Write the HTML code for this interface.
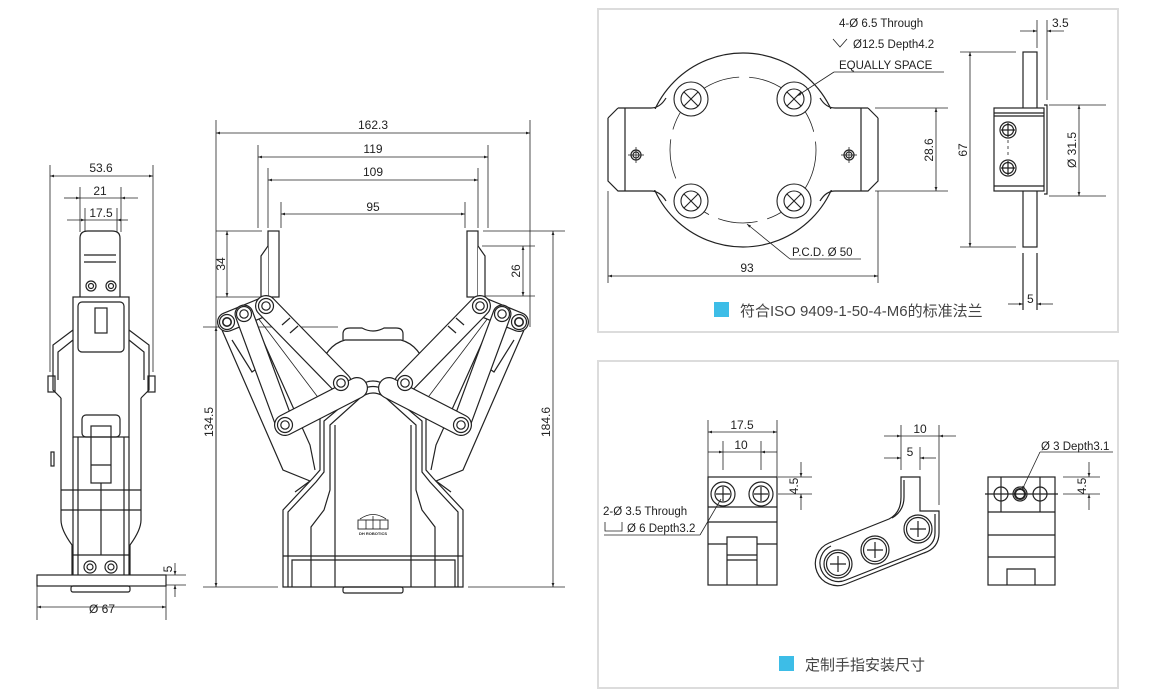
<!DOCTYPE html>
<html><head><meta charset="utf-8"><style>
html,body{margin:0;padding:0;background:#fff;width:1160px;height:700px;overflow:hidden}
svg{display:block;font-family:"Liberation Sans",Arial,sans-serif}
.cn{font-family:"Liberation Sans","Noto Sans CJK SC",sans-serif}
</style></head><body>
<svg width="1160" height="700" viewBox="0 0 1160 700" xmlns="http://www.w3.org/2000/svg">
<defs>
<marker id="a" viewBox="0 0 10 10" refX="10" refY="5" markerWidth="7" markerHeight="5" orient="auto-start-reverse"><path d="M0,1.5 L10,5 L0,8.5 z" fill="#222"/></marker>
</defs>
<rect x="598" y="9" width="520" height="323" fill="none" stroke="#dcdcdc" stroke-width="2"/>
<rect x="598" y="361" width="520" height="327" fill="none" stroke="#dcdcdc" stroke-width="2"/>

<g fill="none" stroke="#222" stroke-width="0.8" font-size="12" >
<!-- LEFT SIDE VIEW -->
<line x1="50" y1="165" x2="50" y2="372"/><line x1="153" y1="165" x2="153" y2="372"/>
<line x1="50" y1="176" x2="153" y2="176" marker-start="url(#a)" marker-end="url(#a)"/>
<line x1="80" y1="187" x2="80" y2="232"/><line x1="121" y1="187" x2="121" y2="232"/>
<line x1="64" y1="198" x2="80" y2="198" marker-end="url(#a)"/><line x1="121" y1="198" x2="138" y2="198" marker-start="url(#a)"/>
<line x1="80" y1="198" x2="121" y2="198"/>
<line x1="85" y1="208" x2="85" y2="232"/><line x1="117" y1="208" x2="117" y2="232"/>
<line x1="67" y1="220" x2="85" y2="220" marker-end="url(#a)"/><line x1="117" y1="220" x2="128" y2="220" marker-start="url(#a)"/>
<line x1="85" y1="220" x2="117" y2="220"/>
<line x1="37" y1="585" x2="37" y2="620"/><line x1="166" y1="585" x2="166" y2="620"/>
<line x1="37" y1="607" x2="166" y2="607" marker-start="url(#a)" marker-end="url(#a)"/>
<line x1="166" y1="575" x2="186" y2="575"/><line x1="166" y1="585" x2="186" y2="585"/>
<line x1="175" y1="563" x2="175" y2="575" marker-end="url(#a)"/><line x1="175" y1="597" x2="175" y2="585" marker-end="url(#a)"/>
<g stroke-width="1.2">
<path d="M80 297 L80 238 Q80 231 88 231 L112 231 Q120 231 120 238 L120 297"/>
<line x1="84" y1="255" x2="116" y2="255"/><line x1="84" y1="262" x2="116" y2="262"/>
<circle cx="91" cy="286" r="5"/><circle cx="91" cy="286" r="2.5"/><circle cx="111" cy="286" r="5"/><circle cx="111" cy="286" r="2.5"/>
<rect x="73" y="297" width="56" height="140"/>
<rect x="78" y="302" width="46" height="50" rx="4"/>
<rect x="95" y="308" width="12" height="25"/>
<rect x="82" y="415" width="38" height="22" rx="4"/>
<rect x="91" y="426" width="20" height="57"/>
<line x1="91" y1="465" x2="111" y2="465"/>
<path d="M73 330 L53 345 L53 390 L61 398 M129 330 L149 345 L149 390 L141 398"/>
<path d="M73 340 L58 352 L58 380 M129 340 L144 352 L144 380"/>
<rect x="48" y="376" width="7" height="16"/><rect x="148" y="376" width="7" height="16"/>
<path d="M61 398 L61 520 Q61 530 72 545 L72 575 M141 398 L141 520 Q141 530 130 545 L130 575"/>
<line x1="73" y1="437" x2="73" y2="575"/><line x1="129" y1="437" x2="129" y2="575"/>
<line x1="78" y1="437" x2="78" y2="575"/><line x1="124" y1="437" x2="124" y2="575"/>
<line x1="61" y1="490" x2="141" y2="490"/><line x1="61" y1="510" x2="141" y2="510"/><line x1="73" y1="555" x2="129" y2="555"/>
<line x1="101" y1="483" x2="101" y2="555"/>
<rect x="51" y="452" width="3" height="14"/>
<circle cx="90" cy="567" r="6"/><circle cx="90" cy="567" r="3"/><circle cx="111" cy="567" r="6"/><circle cx="111" cy="567" r="3"/>
<rect x="37" y="575" width="129" height="11"/>
<rect x="71" y="586" width="59" height="6" rx="2"/>
</g>

<!-- MAIN GRIPPER -->
<line x1="216" y1="120" x2="216" y2="587"/><line x1="530" y1="120" x2="530" y2="327"/>
<line x1="216" y1="133" x2="530" y2="133" marker-start="url(#a)" marker-end="url(#a)"/>
<line x1="258" y1="145" x2="258" y2="228"/><line x1="488" y1="145" x2="488" y2="228"/>
<line x1="258" y1="157" x2="488" y2="157" marker-start="url(#a)" marker-end="url(#a)"/>
<line x1="268" y1="168" x2="268" y2="228"/><line x1="478" y1="168" x2="478" y2="228"/>
<line x1="268" y1="180" x2="478" y2="180" marker-start="url(#a)" marker-end="url(#a)"/>
<line x1="281" y1="202" x2="281" y2="228"/><line x1="465" y1="202" x2="465" y2="228"/>
<line x1="281" y1="214" x2="465" y2="214" marker-start="url(#a)" marker-end="url(#a)"/>
<line x1="216" y1="231" x2="262" y2="231"/><line x1="216" y1="297" x2="262" y2="297"/>
<line x1="227" y1="231" x2="227" y2="297" marker-start="url(#a)" marker-end="url(#a)"/>
<line x1="203" y1="327" x2="338" y2="327"/>
<line x1="216" y1="327" x2="216" y2="587" marker-start="url(#a)" marker-end="url(#a)"/>
<line x1="203" y1="587" x2="278" y2="587"/>
<line x1="483" y1="231" x2="565" y2="231"/><line x1="468" y1="587" x2="565" y2="587"/>
<line x1="553" y1="231" x2="553" y2="587" marker-start="url(#a)" marker-end="url(#a)"/>
<line x1="482" y1="246" x2="535" y2="246"/><line x1="482" y1="296" x2="535" y2="296"/>
<line x1="523" y1="246" x2="523" y2="296" marker-start="url(#a)" marker-end="url(#a)"/>

<g stroke-width="1.2">
<path d="M343 340 L343 334 Q343 328 350 328 L362 328 Q373 334 384 328 L396 328 Q403 328 403 334 L403 340"/>
<path d="M318 372 Q326 345 345 340 L401 340 Q420 345 428 372"/>
<path d="M283 587 L283 510 L313 478 L320 470 L320 418 L352 392 Q373 370 394 392 L426 418 L426 470 L433 478 L463 510 L463 587 Z"/>
<path d="M288 587 L288 512 L316 482 L324 472 L324 421 L355 395 Q373 378 391 395 L422 421 L422 472 L430 482 L458 512 L458 587"/>
<path d="M311 587 L311 527 L324 510 L330 490 L330 425 L360 398 Q373 388 386 398 L416 425 L416 490 L422 510 L435 527 L435 587"/>
<line x1="335" y1="425" x2="335" y2="587"/><line x1="411" y1="425" x2="411" y2="587"/>
<path d="M292 587 L292 560 L455 560 L455 587"/>
<line x1="283" y1="556" x2="463" y2="556"/>
<rect x="343" y="587" width="60" height="6" rx="2"/>
<path d="M360 519 Q373 510 386 519" stroke-width="0.8"/>
<rect x="358" y="520" width="30" height="9" stroke-width="0.9"/>
<line x1="366" y1="520" x2="366" y2="529" stroke-width="0.8"/><line x1="373" y1="516" x2="373" y2="529" stroke-width="0.8"/><line x1="380" y1="520" x2="380" y2="529" stroke-width="0.8"/>
<text x="373" y="535" font-size="4" text-anchor="middle" fill="#222" stroke="none" font-weight="bold">DH ROBOTICS</text>

<g id="half">
<rect x="268" y="231" width="11" height="66" fill="#fff"/>
<path d="M268 246 L261 256 L261 297 L268 297" fill="#fff"/>
<path d="M222 330 L283 470 L310 481 L295 492 M252 316 L310 445 L315 470" />
<path d="M232 340 L252 372 L262 365" />
<path d="M258 318 L320 400" stroke-width="0.8"/>
<line x1="227" y1="322" x2="266" y2="306" stroke="#222" stroke-width="20" stroke-linecap="round"/>
<line x1="227" y1="322" x2="266" y2="306" stroke="#fff" stroke-width="17.6" stroke-linecap="round"/>
<line x1="244" y1="314" x2="285" y2="425" stroke="#222" stroke-width="19" stroke-linecap="round"/>
<line x1="244" y1="314" x2="285" y2="425" stroke="#fff" stroke-width="16.6" stroke-linecap="round"/>
<line x1="266" y1="306" x2="341" y2="383" stroke="#222" stroke-width="22" stroke-linecap="round"/>
<line x1="266" y1="306" x2="341" y2="383" stroke="#fff" stroke-width="19.6" stroke-linecap="round"/>
<line x1="285" y1="425" x2="357" y2="388" stroke="#222" stroke-width="22" stroke-linecap="round"/>
<line x1="285" y1="425" x2="357" y2="388" stroke="#fff" stroke-width="19.6" stroke-linecap="round"/>
<line x1="282" y1="325" x2="290" y2="318"/><line x1="290" y1="333" x2="298" y2="326"/>
<g fill="#fff">
<circle cx="227" cy="322" r="7.5"/><circle cx="227" cy="322" r="4.2" stroke-width="1.6"/>
<circle cx="244" cy="314" r="7.5"/><circle cx="244" cy="314" r="4.2"/>
<circle cx="266" cy="306" r="7.5"/><circle cx="266" cy="306" r="4.2"/>
<circle cx="341" cy="383" r="7.5"/><circle cx="341" cy="383" r="4.2"/>
<circle cx="285" cy="425" r="7.5"/><circle cx="285" cy="425" r="4.2"/>
</g>
</g>
<use href="#half" transform="translate(746,0) scale(-1,1)"/>
</g>

<!-- FLANGE -->
<g stroke-width="1.2">
<circle cx="743" cy="150" r="97"/>
<rect x="626" y="109" width="234" height="81" fill="#fff" stroke="none"/>
<path d="M618 108 L651 108 Q660 108 666 98 M608 118 L618 108 M608 118 L608 181 L618 191 L651 191 Q660 191 666 201"/>
<path d="M868 108 L835 108 Q826 108 820 98 M878 118 L868 108 M878 118 L878 181 L868 191 L835 191 Q826 191 820 201"/>
<line x1="625" y1="108" x2="625" y2="191"/><line x1="861" y1="108" x2="861" y2="191"/>
<circle cx="636" cy="155" r="5"/><circle cx="636" cy="155" r="3"/>
<circle cx="849" cy="155" r="5"/><circle cx="849" cy="155" r="3"/>
</g>
<circle cx="743" cy="150" r="73" stroke-dasharray="40 10"/>
<line x1="628" y1="155" x2="644" y2="155"/><line x1="636" y1="147" x2="636" y2="163"/>
<line x1="841" y1="155" x2="857" y2="155"/><line x1="849" y1="147" x2="849" y2="163"/>
<g stroke-width="1.1">
<circle cx="691" cy="99" r="17" fill="#fff"/><circle cx="691" cy="99" r="10"/><path d="M684 92 L698 106 M698 92 L684 106"/>
<circle cx="794" cy="99" r="17" fill="#fff"/><circle cx="794" cy="99" r="10"/><path d="M787 92 L801 106 M801 92 L787 106"/>
<circle cx="691" cy="201" r="17" fill="#fff"/><circle cx="691" cy="201" r="10"/><path d="M684 194 L698 208 M698 194 L684 208"/>
<circle cx="794" cy="201" r="17" fill="#fff"/><circle cx="794" cy="201" r="10"/><path d="M787 194 L801 208 M801 194 L787 208"/>
</g>
<line x1="834" y1="72" x2="944" y2="72"/><line x1="834" y1="72" x2="797" y2="96" marker-end="url(#a)"/>
<path d="M833 39 L840 47 L847 39"/>
<line x1="790" y1="259" x2="861" y2="259"/><line x1="790" y1="259" x2="747" y2="224" marker-end="url(#a)"/>
<line x1="875" y1="108" x2="948" y2="108"/><line x1="875" y1="191" x2="948" y2="191"/>
<line x1="936" y1="108" x2="936" y2="191" marker-start="url(#a)" marker-end="url(#a)"/>
<line x1="608" y1="191" x2="608" y2="283"/><line x1="878" y1="191" x2="878" y2="283"/>
<line x1="608" y1="276" x2="878" y2="276" marker-start="url(#a)" marker-end="url(#a)"/>
<g stroke-width="1.2">
<rect x="1023" y="52" width="14" height="195"/>
<line x1="1023" y1="253" x2="1023" y2="310"/><line x1="1037" y1="253" x2="1037" y2="310"/>
<rect x="994" y="108" width="50" height="83" fill="#fff"/>
<line x1="994" y1="113" x2="1044" y2="113"/><line x1="994" y1="116" x2="1044" y2="116"/>
<line x1="994" y1="186" x2="1044" y2="186"/>
<path d="M1044 105 L1047 105 L1047 194 L1044 194"/>
<circle cx="1008" cy="130" r="8"/><circle cx="1008" cy="130" r="5.5"/><path d="M1001 130 L1015 130 M1008 123 L1008 137"/>
<circle cx="1008" cy="168" r="8"/><circle cx="1008" cy="168" r="5.5"/><path d="M1001 168 L1015 168 M1008 161 L1008 175"/>
</g>
<line x1="1008" y1="140" x2="1008" y2="158" stroke-dasharray="3 3"/>
<line x1="960" y1="52" x2="1016" y2="52"/><line x1="960" y1="247" x2="1016" y2="247"/>
<line x1="970" y1="52" x2="970" y2="247" marker-start="url(#a)" marker-end="url(#a)"/>
<line x1="1049" y1="105" x2="1106" y2="105"/><line x1="1049" y1="196" x2="1106" y2="196"/>
<line x1="1079" y1="105" x2="1079" y2="196" marker-start="url(#a)" marker-end="url(#a)"/>
<line x1="1037" y1="20" x2="1037" y2="48"/><line x1="1047" y1="20" x2="1047" y2="100"/>
<line x1="1020" y1="31" x2="1037" y2="31" marker-end="url(#a)"/><line x1="1064" y1="31" x2="1047" y2="31" marker-end="url(#a)"/>
<line x1="1008" y1="304" x2="1023" y2="304" marker-end="url(#a)"/><line x1="1053" y1="304" x2="1037" y2="304" marker-end="url(#a)"/>

<!-- FINGER PARTS -->
<g stroke-width="1.2">
<rect x="708" y="477" width="69" height="108"/>
<line x1="708" y1="507" x2="777" y2="507"/><line x1="708" y1="522" x2="777" y2="522"/><line x1="708" y1="544" x2="727" y2="544"/><line x1="757" y1="544" x2="777" y2="544"/>
<path d="M727 585 L727 537 L757 537 L757 585"/><line x1="727" y1="555" x2="757" y2="555"/><line x1="727" y1="560" x2="757" y2="560"/>
<circle cx="723" cy="494" r="12"/><circle cx="723" cy="494" r="8"/><path d="M716 494 L730 494 M723 487 L723 501"/>
<circle cx="761" cy="494" r="12"/><circle cx="761" cy="494" r="8"/><path d="M754 494 L768 494 M761 487 L761 501"/>
<path d="M901 477 L920 477 L920 511 L939 511 L939 533 Q939 548 924 553 L846 584 A22 22 0 0 1 829 543 L889 519 Q901 513 901 497 Z"/>
<path d="M904 480 L904 497 Q904 511 892 518 M935 514 L935 533 Q935 545 922 550 L846 580 A18 18 0 0 1 831 546"/>
<circle cx="918" cy="529" r="14"/><circle cx="918" cy="529" r="11.5"/><path d="M910 529 L926 529 M918 521 L918 537"/>
<circle cx="875" cy="550" r="14"/><circle cx="875" cy="550" r="11.5"/><path d="M867 550 L883 550 M875 542 L875 558"/>
<circle cx="838" cy="564" r="14"/><circle cx="838" cy="564" r="11.5"/><path d="M830 564 L846 564 M838 556 L838 572"/>
<rect x="988" y="477" width="67" height="108"/>
<line x1="988" y1="512" x2="1055" y2="512"/><line x1="988" y1="535" x2="1055" y2="535"/><line x1="988" y1="557" x2="1055" y2="557"/>
<line x1="1001" y1="477" x2="1001" y2="512"/><line x1="1040" y1="477" x2="1040" y2="512"/>
<path d="M1007 585 L1007 569 L1035 569 L1035 585"/>
<circle cx="1001" cy="494" r="7"/><circle cx="1020" cy="494" r="7"/><circle cx="1020" cy="494" r="5" stroke-width="2"/><circle cx="1040" cy="494" r="7"/>
<line x1="985" y1="494" x2="1058" y2="494"/>
</g>
<line x1="708" y1="420" x2="708" y2="477"/><line x1="777" y1="420" x2="777" y2="477"/>
<line x1="708" y1="432" x2="777" y2="432" marker-start="url(#a)" marker-end="url(#a)"/>
<line x1="723" y1="441" x2="723" y2="470"/><line x1="761" y1="441" x2="761" y2="470"/>
<line x1="708" y1="452" x2="723" y2="452" marker-end="url(#a)"/><line x1="777" y1="452" x2="761" y2="452" marker-end="url(#a)"/><line x1="723" y1="452" x2="761" y2="452"/>
<line x1="778" y1="477" x2="812" y2="477"/><line x1="778" y1="494" x2="812" y2="494"/>
<line x1="801" y1="462" x2="801" y2="477" marker-end="url(#a)"/><line x1="801" y1="510" x2="801" y2="494" marker-end="url(#a)"/>
<line x1="604" y1="535" x2="700" y2="535"/><line x1="700" y1="535" x2="721" y2="499"/>
<path d="M605 522 L605 531 L622 531 L622 522"/>
<line x1="901" y1="425" x2="901" y2="470"/><line x1="939" y1="425" x2="939" y2="505"/>
<line x1="884" y1="436" x2="901" y2="436" marker-end="url(#a)"/><line x1="956" y1="436" x2="939" y2="436" marker-end="url(#a)"/><line x1="901" y1="436" x2="939" y2="436"/>
<line x1="920" y1="447" x2="920" y2="470"/>
<line x1="884" y1="458" x2="901" y2="458" marker-end="url(#a)"/><line x1="936" y1="458" x2="920" y2="458" marker-end="url(#a)"/>
<line x1="1040" y1="452" x2="1113" y2="452"/><line x1="1040" y1="452" x2="1022" y2="490" marker-end="url(#a)"/>
<line x1="1063" y1="477" x2="1100" y2="477"/><line x1="1063" y1="494" x2="1100" y2="494"/>
<line x1="1089" y1="462" x2="1089" y2="477" marker-end="url(#a)"/><line x1="1089" y1="510" x2="1089" y2="494" marker-end="url(#a)"/>
</g>

<g fill="#222" font-size="12">
<text x="101" y="172" text-anchor="middle">53.6</text>
<text x="100" y="195" text-anchor="middle">21</text>
<text x="101" y="217" text-anchor="middle">17.5</text>
<text x="102" y="613" text-anchor="middle">Ø 67</text>
<text transform="translate(172,569) rotate(-90)" text-anchor="middle">5</text>
<text x="373" y="129" text-anchor="middle">162.3</text>
<text x="373" y="153" text-anchor="middle">119</text>
<text x="373" y="176" text-anchor="middle">109</text>
<text x="373" y="211" text-anchor="middle">95</text>
<text transform="translate(225,264) rotate(-90)" text-anchor="middle">34</text>
<text transform="translate(520,271) rotate(-90)" text-anchor="middle">26</text>
<text transform="translate(213,422) rotate(-90)" text-anchor="middle">134.5</text>
<text transform="translate(550,422) rotate(-90)" text-anchor="middle">184.6</text>
<text x="839" y="27" font-size="11.5">4-Ø  6.5 Through</text>
<text x="853" y="48" font-size="11.5">Ø12.5  Depth4.2</text>
<text x="839" y="69" font-size="11.5">EQUALLY SPACE</text>
<text x="792" y="256" font-size="11.5">P.C.D. Ø  50</text>
<text x="747" y="272" text-anchor="middle">93</text>
<text transform="translate(933,150) rotate(-90)" text-anchor="middle">28.6</text>
<text transform="translate(967,150) rotate(-90)" text-anchor="middle">67</text>
<text transform="translate(1076,150) rotate(-90)" text-anchor="middle">Ø 31.5</text>
<text x="1052" y="27">3.5</text>
<text x="1027" y="303">5</text>
<text x="742" y="429" text-anchor="middle">17.5</text>
<text x="741" y="449" text-anchor="middle">10</text>
<text transform="translate(798,486) rotate(-90)" text-anchor="middle">4.5</text>
<text x="603" y="515" font-size="11.5">2-Ø 3.5 Through</text>
<text x="627" y="532" font-size="11.5">Ø 6 Depth3.2</text>
<text x="920" y="433" text-anchor="middle">10</text>
<text x="910" y="456" text-anchor="middle">5</text>
<text x="1041" y="450" font-size="11.5">Ø 3 Depth3.1</text>
<text transform="translate(1086,486) rotate(-90)" text-anchor="middle">4.5</text>
</g>
<rect x="714" y="302" width="15" height="15" fill="#3dbde7"/>
<text x="740" y="316" font-size="15" fill="#444" class="cn">符合ISO 9409-1-50-4-M6的标准法兰</text>
<rect x="779" y="656" width="15" height="15" fill="#3dbde7"/>
<text x="805" y="670" font-size="15" fill="#444" class="cn">定制手指安装尺寸</text>
</svg>
</body></html>
